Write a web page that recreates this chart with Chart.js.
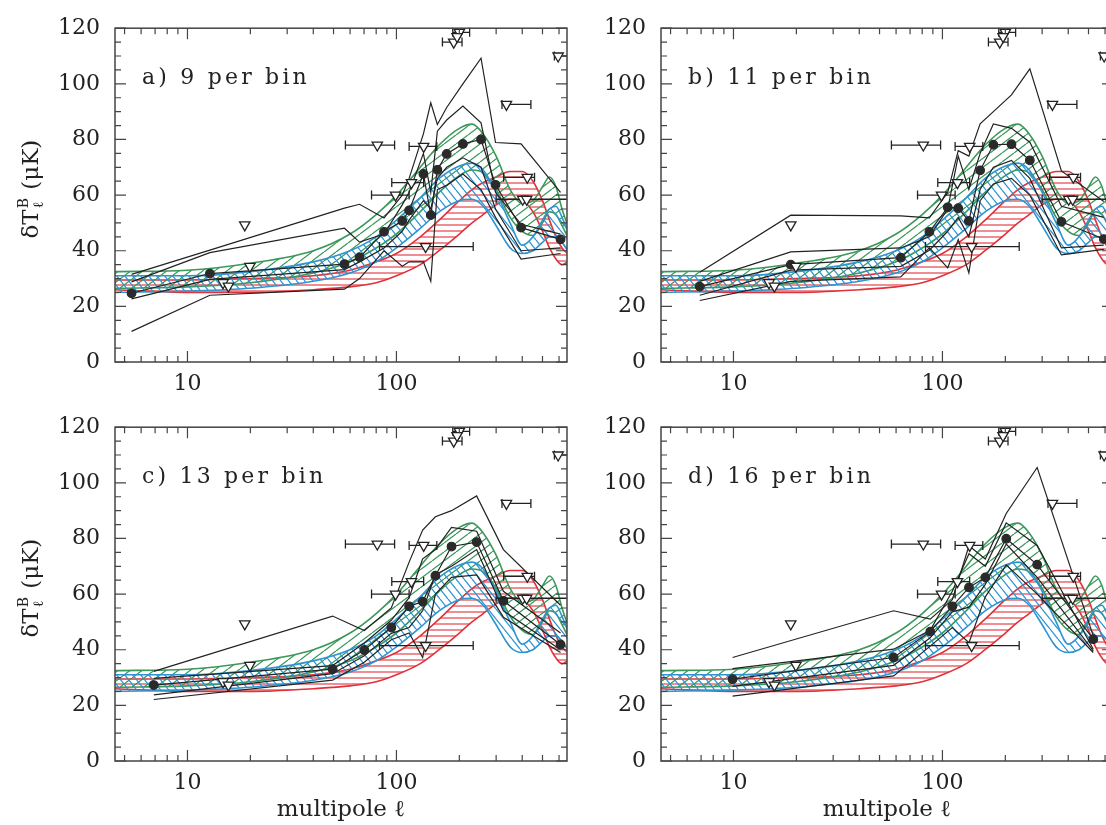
<!DOCTYPE html>
<html><head><meta charset="utf-8">
<script src="https://cdn.jsdelivr.net/npm/chart.js@4.4.1/dist/chart.umd.min.js"></script>
<style>
html,body{margin:0;padding:0;background:#fff;overflow:hidden;width:1106px;height:825px;}
canvas{position:absolute;display:block;}
</style></head><body>
<canvas id="ca" width="580" height="400" style="left:0;top:0"></canvas>
<canvas id="cb" width="580" height="400" style="left:546px;top:0"></canvas>
<canvas id="cc" width="580" height="426" style="left:0;top:399px"></canvas>
<canvas id="cd" width="580" height="426" style="left:546px;top:399px"></canvas>
<script>
// ---------------- data ----------------
const X_TICK_LABELS = [10, 100];
const X_TICK_MARKS = [5,6,7,8,9,10,20,30,40,50,60,70,80,90,100,200,300,400,500,600];
const Y_TICK_LABEL_STEP = 20;
const Y_TICK_MARK_STEP = 5;

// model bands (same in every panel)
const BAND_X   = [4.5, 10, 20, 40, 60, 80, 100, 130, 160, 200, 230, 260, 300, 350, 400, 450, 500, 540, 580, 620, 660];
const GREEN_HI = [32.5, 33, 35.5, 40, 46, 53, 60, 70, 78, 84, 85.5, 82, 74, 62, 57, 58, 63, 66.5, 63, 55, 49];
const GREEN_LO = [26.5, 27, 28.5, 32, 36, 41, 46, 54, 61, 67, 69, 68, 62, 52, 47, 45.5, 50, 54, 53, 49, 45];
const BLUE_HI  = [31, 31, 32.5, 36, 40, 45, 51, 59, 66, 70.5, 71.5, 69, 61, 50, 42, 45, 51, 55, 56, 52, 47];
const BLUE_LO  = [25, 25.5, 26.5, 29, 32, 36, 41, 48, 54, 58, 58.5, 56, 49, 41, 39, 40, 43, 45, 45, 43, 40];
const RED_HI   = [29.5, 29.5, 30, 31, 33, 36, 39, 45, 51, 58, 62, 64.5, 66.5, 68.5, 68.5, 65, 58, 51, 45, 41, 39];
const RED_LO   = [26, 25, 25, 26, 27, 28.5, 31, 35, 40, 46, 50, 53, 56.5, 58.5, 58, 54, 47, 41, 37, 35, 36];

// other experiments (open triangles with horizontal bars), same in every panel
const TRI_X   = [14.8, 15.7, 18.8, 19.9, 81, 99, 118, 135, 138, 188, 200, 195, 336, 423, 402, 420, 594];
const TRI_Y   = [28.5, 27.3, 49.3, 34.4, 78, 60, 64.5, 77.5, 41.5, 115, 118.5, 117, 92.6, 66.4, 58.5, 58.5, 110];
const TRI_XLO = [null, null, null, null, 57, 76, 95, 115, 83, 166, 186, null, 320, 326, 300, null, 570];
const TRI_XHI = [null, null, null, null, 98, 115, 135, 156, 233, 206, 224, null, 440, 458, 800, null, 800];

// panel a) 9 per bin
const A_X   = [5.4, 12.8, 56.4, 66.6, 87.2, 106.6, 115, 134.6, 146, 157, 174, 208, 254, 298, 395, 610];
const A_DOT = [24.7, 31.8, 35.2, 37.6, 46.8, 50.7, 54.5, 67.6, 52.8, 69.1, 74.8, 78.4, 80.0, 63.7, 48.3, 44.1];
const A_U2  = [31.5, 40.2, 55.3, 56.7, 51.8, 60, 66, 82, 93.2, 85.4, 91.5, 100, 109.2, 78.9, 78.4, 61];
const A_U1  = [28.8, 39.3, 48.1, 43.1, 46, 56.5, 61, 75, 61, 83, 87, 92, 86, 61, 49.5, 46];
const A_L1  = [22.7, 29.7, 33.2, 36, 41, 47, 51, 58, 55, 66, 70, 73.4, 70, 55, 40, 41];
const A_L2  = [11, 24, 26.2, 30, 40, 34.4, 36, 36, 29, 62, 63.5, 67.6, 62, 52, 37, 39];

// panel b) 11 per bin
const B_X   = [6.9, 18.8, 63.2, 86.6, 106, 119, 133.8, 151.5, 175.3, 214, 262, 371, 592];
const B_DOT = [27.1, 35.0, 37.5, 46.8, 55.6, 55.3, 50.7, 68.9, 78.1, 78.3, 72.5, 50.4, 44.2];
const B_U2  = [32.3, 52.8, 52.5, 51.8, 61, 76, 74, 85.6, 90, 96, 105.4, 68.7, 57.7];
const B_U1  = [29, 39.6, 41, 45, 55, 74, 62, 75, 85.6, 84, 79, 56, 52];
const B_L1  = [24, 33, 34.4, 40.2, 47, 52, 45, 62, 70, 72.5, 66, 41, 42];
const B_L2  = [22.1, 29, 30.6, 41, 33.8, 44, 32, 58, 64, 66, 60, 38.5, 40.5];

// panel c) 13 per bin
const C_X   = [6.9, 49.5, 70.2, 94.5, 115, 133.5, 153.6, 183.5, 242, 325, 610];
const C_DOT = [27.3, 33, 39.9, 48, 55.6, 57.3, 66.6, 77.1, 78.7, 57.6, 41.9];
const C_U2  = [32.2, 52.1, 46.9, 55, 71.5, 83, 87.8, 90, 95.3, 76, 56];
const C_U1  = [29.7, 34.3, 42.4, 50.6, 58.7, 72.7, 76, 84, 82.6, 61, 46];
const C_L1  = [23.8, 31.4, 37.8, 45.9, 48, 54, 67, 70, 76, 54, 40];
const C_L2  = [22.1, 29.1, 35.5, 43.6, 46, 37.2, 60, 66, 66.9, 51.7, 39];

// panel d) 16 per bin
const D_X   = [9.9, 58.4, 87.4, 111.5, 134, 160.4, 202, 284, 527];
const D_DOT = [29.4, 37.2, 46.5, 55.6, 62.4, 66, 79.9, 70.6, 43.8];
const D_U2  = [37.2, 54, 51, 58, 77.4, 72.6, 89, 105.5, 45];
const D_U1  = [33.2, 40.2, 47, 61, 74.5, 70, 85.6, 77.5, 40.2];
const D_L1  = [26.8, 34.4, 44.3, 53.6, 55.3, 63.5, 78, 66, 39.6];
const D_L2  = [23.3, 30.6, 41.3, 48, 42.5, 59, 70.5, 60, 39];

// ---------------- styling ----------------
const FONT = "'DejaVu Serif', serif";
const INK = '#222';
const GREEN = '#3c975a', BLUE = '#2e94d2', RED = '#e0323a';

function makeHatch(color, w, h, kind, lw) {
  const c = document.createElement('canvas'); c.width = w; c.height = h;
  const g = c.getContext('2d');
  g.strokeStyle = color; g.lineWidth = lw;
  g.beginPath();
  if (kind === 'h') { g.moveTo(0, h / 2); g.lineTo(w, h / 2); }
  else {
    for (const k of [-1, 0, 1]) {
      if (kind === 'up') { g.moveTo(k * w, h); g.lineTo(k * w + w, 0); }
      else { g.moveTo(k * w, 0); g.lineTo(k * w + w, h); }
    }
  }
  g.stroke();
  return g.createPattern(c, 'repeat');
}

const pts = (xs, ys) => xs.map((x, i) => ({ x, y: ys[i] }));

const frameTicks = {
  id: 'frameTicks',
  afterDatasetsDraw(chart) {
    const { ctx, chartArea: a, scales: { x, y } } = chart;
    ctx.save();
    ctx.strokeStyle = '#444'; ctx.lineWidth = 1.5;
    ctx.strokeRect(a.left, a.top, a.right - a.left, a.bottom - a.top);
    ctx.lineWidth = 1.2;
    ctx.beginPath();
    for (const v of X_TICK_MARKS) {
      const px = x.getPixelForValue(v);
      if (px < a.left || px > a.right) continue;
      const len = X_TICK_LABELS.includes(v) ? 11 : 6;
      ctx.moveTo(px, a.bottom); ctx.lineTo(px, a.bottom - len);
      ctx.moveTo(px, a.top); ctx.lineTo(px, a.top + len);
    }
    for (let v = y.min; v <= y.max; v += Y_TICK_MARK_STEP) {
      const py = y.getPixelForValue(v);
      const len = v % Y_TICK_LABEL_STEP === 0 ? 11 : 6;
      ctx.moveTo(a.left, py); ctx.lineTo(a.left + len, py);
      ctx.moveTo(a.right, py); ctx.lineTo(a.right - len, py);
    }
    ctx.stroke();
    ctx.restore();
  }
};

const errBars = {
  id: 'errBars',
  beforeDatasetDraw(chart, args) {
    if (args.index !== 0) return;
    const { ctx, chartArea: a, scales: { x, y } } = chart;
    ctx.save();
    ctx.beginPath(); ctx.rect(a.left, a.top - 10, a.right - a.left, a.bottom - a.top + 10); ctx.clip();
    ctx.strokeStyle = INK; ctx.lineWidth = 1.3;
    ctx.beginPath();
    TRI_X.forEach((tx, i) => {
      if (TRI_XLO[i] == null) return;
      const x0 = x.getPixelForValue(TRI_XLO[i]), x1 = x.getPixelForValue(TRI_XHI[i]);
      const py = y.getPixelForValue(TRI_Y[i]);
      ctx.moveTo(x0, py); ctx.lineTo(x1, py);
      ctx.moveTo(x0, py - 4.5); ctx.lineTo(x0, py + 4.5);
      ctx.moveTo(x1, py - 4.5); ctx.lineTo(x1, py + 4.5);
    });
    ctx.stroke();
    ctx.restore();
  }
};

const panelText = {
  id: 'panelText',
  afterDraw(chart, args, opts) {
    const { ctx, chartArea: a } = chart;
    ctx.save();
    ctx.fillStyle = INK;
    ctx.font = `22px ${FONT}`;
    ctx.textBaseline = 'middle';
    ctx.textAlign = 'left';
    let xx = a.left + 27; const yy = a.top + 50;
    for (const ch of opts.label) { ctx.fillText(ch, xx, yy); xx += ctx.measureText(ch).width + 3.2; }
    if (opts.ytitle) {
      ctx.translate(30, (a.top + a.bottom) / 2 - 6);
      ctx.rotate(-Math.PI / 2);
      ctx.textBaseline = 'alphabetic';
      ctx.font = `23px ${FONT}`;
      const w1 = ctx.measureText('δT').width;
      const w2 = ctx.measureText(' (μK)').width;
      ctx.font = `14px ${FONT}`;
      const ws = Math.max(ctx.measureText('B').width, ctx.measureText('ℓ').width);
      const total = w1 + ws + 2 + w2;
      const s = -total / 2, b = 8;
      ctx.font = `23px ${FONT}`;
      ctx.fillText('δT', s, b);
      ctx.font = `14px ${FONT}`;
      ctx.fillText('B', s + w1 + 1, b - 10);
      ctx.fillText('ℓ', s + w1 + 1, b + 5);
      ctx.font = `23px ${FONT}`;
      ctx.fillText(' (μK)', s + w1 + ws + 2, b);
    }
    ctx.restore();
  }
};

function makeChart(id, P) {
  const ctx = document.getElementById(id).getContext('2d');
  const gPat = makeHatch(GREEN, 12, 9, 'up', 1.25);
  const bPat = makeHatch(BLUE, 8, 10, 'down', 1.25);
  const rPat = makeHatch(RED, 8, 6, 'h', 1.1);
  const thin = { pointRadius: 0, borderColor: INK, borderWidth: 1.2, fill: false, tension: 0, order: 2 };
  const band = (ys, color, extra) => Object.assign({ data: pts(BAND_X, ys), borderColor: color, borderWidth: 1.6, pointRadius: 0, tension: 0.4, cubicInterpolationMode: 'monotone' }, extra);
  const datasets = [
    { data: pts(TRI_X, TRI_Y), showLine: false, pointStyle: 'triangle', pointRotation: 180, pointRadius: 6,
      pointBackgroundColor: '#fff', pointBorderColor: INK, pointBorderWidth: 1.3, clip: false, order: 0 },
    { data: pts(P.x, P.dot), borderColor: INK, borderWidth: 1.2, pointRadius: 4.3, pointBackgroundColor: '#2a2a2a',
      pointBorderColor: '#2a2a2a', tension: 0, fill: false, order: 1 },
    Object.assign({ data: pts(P.x, P.u2) }, thin),
    Object.assign({ data: pts(P.x, P.u1) }, thin),
    Object.assign({ data: pts(P.x, P.l1) }, thin),
    Object.assign({ data: pts(P.x, P.l2) }, thin),
    band(GREEN_HI, GREEN, { fill: 7, backgroundColor: gPat, order: 4 }),
    band(GREEN_LO, GREEN, { fill: false, order: 4 }),
    band(BLUE_HI, BLUE, { fill: 9, backgroundColor: bPat, order: 3 }),
    band(BLUE_LO, BLUE, { fill: false, order: 3 }),
    band(RED_HI, RED, { fill: 11, backgroundColor: rPat, order: 5 }),
    band(RED_LO, RED, { fill: false, order: 5 })
  ];
  new Chart(ctx, {
    type: 'line',
    data: { datasets },
    options: {
      responsive: false, animation: false, events: [],
      layout: { padding: { top: 19, right: 13, left: 0, bottom: 0 } },
      plugins: { legend: { display: false }, tooltip: { enabled: false },
        panelText: { label: P.label, ytitle: P.ytitle } },
      scales: {
        x: {
          type: 'logarithmic', min: 4.5, max: 655,
          afterBuildTicks: s => { s.ticks = X_TICK_LABELS.map(v => ({ value: v })); },
          ticks: { font: { family: FONT, size: 22 }, color: INK, padding: 9, autoSkip: false,
            maxRotation: 0, minRotation: 0, callback: v => String(v) },
          grid: { display: false, drawTicks: false }, border: { display: false },
          afterFit: s => { s.height = P.xh; },
          title: { display: P.xtitle, text: 'multipole ℓ', font: { family: FONT, size: 23 }, color: INK,
            padding: { top: 0, bottom: 1 } }
        },
        y: {
          min: 0, max: 120,
          ticks: { stepSize: Y_TICK_LABEL_STEP, font: { family: FONT, size: 22 }, color: INK, padding: 15 },
          grid: { display: false, drawTicks: false }, border: { display: false },
          afterFit: s => { s.width = 115; }
        }
      }
    },
    plugins: [errBars, frameTicks, panelText]
  });
}

makeChart('ca', { label: 'a) 9 per bin', x: A_X, dot: A_DOT, u2: A_U2, u1: A_U1, l1: A_L1, l2: A_L2, ytitle: true, xtitle: false, xh: 38 });
makeChart('cb', { label: 'b) 11 per bin', x: B_X, dot: B_DOT, u2: B_U2, u1: B_U1, l1: B_L1, l2: B_L2, ytitle: false, xtitle: false, xh: 38 });
makeChart('cc', { label: 'c) 13 per bin', x: C_X, dot: C_DOT, u2: C_U2, u1: C_U1, l1: C_L1, l2: C_L2, ytitle: true, xtitle: true, xh: 64 });
makeChart('cd', { label: 'd) 16 per bin', x: D_X, dot: D_DOT, u2: D_U2, u1: D_U1, l1: D_L1, l2: D_L2, ytitle: false, xtitle: true, xh: 64 });
</script>
</body></html>
